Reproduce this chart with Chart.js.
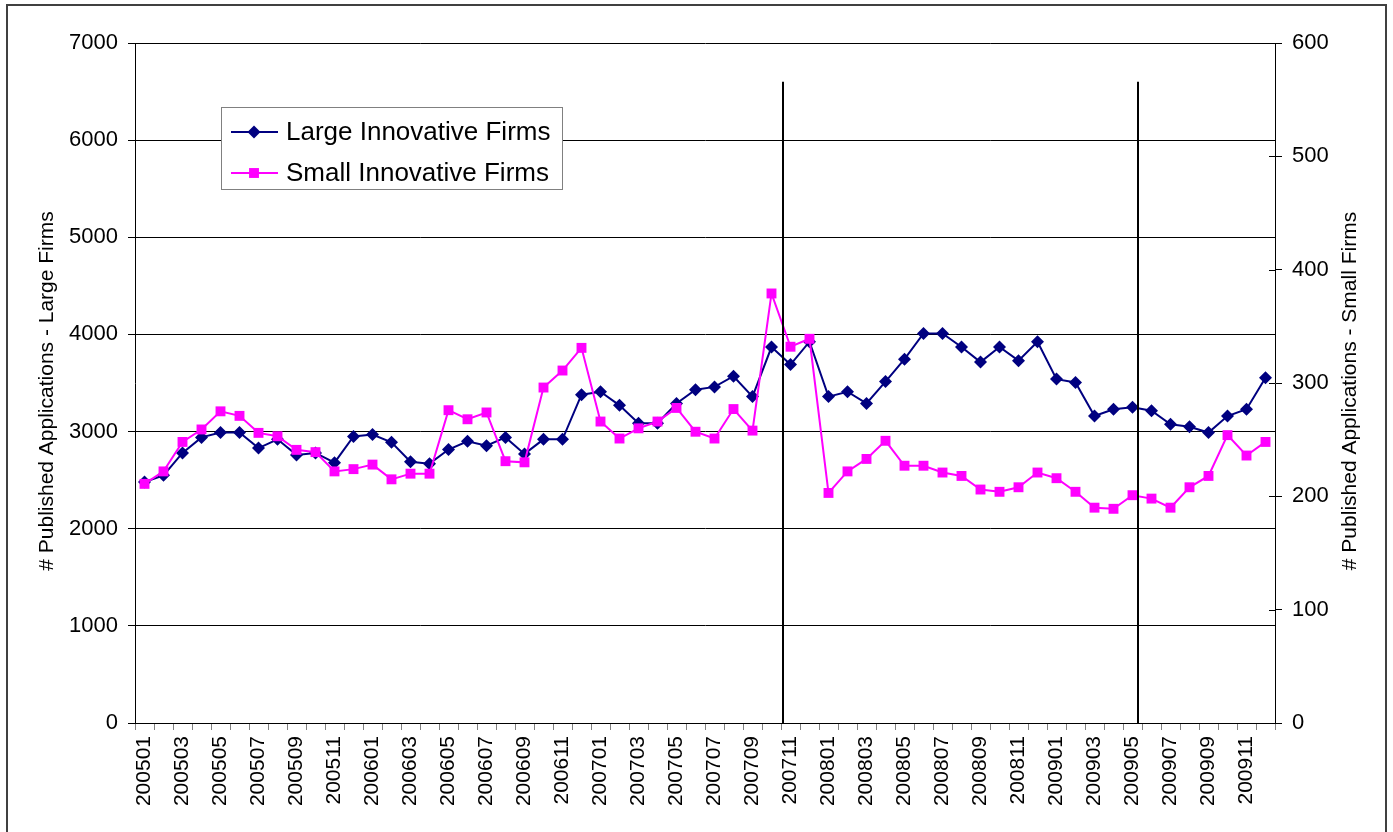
<!DOCTYPE html>
<html>
<head>
<meta charset="utf-8">
<script src="https://cdn.jsdelivr.net/npm/chart.js@4"></script>
<style>
  html, body { margin: 0; padding: 0; background: #fff; }
  canvas { display: block; }
</style>
</head>
<body>
<canvas id="chart" width="1393" height="832"></canvas>
<script>
// monthly published applications, Jan 2005 - Dec 2009
const months = [
  '200501','200502','200503','200504','200505','200506','200507','200508','200509','200510','200511','200512',
  '200601','200602','200603','200604','200605','200606','200607','200608','200609','200610','200611','200612',
  '200701','200702','200703','200704','200705','200706','200707','200708','200709','200710','200711','200712',
  '200801','200802','200803','200804','200805','200806','200807','200808','200809','200810','200811','200812',
  '200901','200902','200903','200904','200905','200906','200907','200908','200909','200910','200911','200912'
];
const largeFirms = [
  2480, 2550, 2780, 2940, 2990, 2990, 2830, 2920, 2760, 2780, 2680, 2950,
  2970, 2890, 2690, 2670, 2815, 2900, 2855, 2940, 2770, 2920, 2920, 3380,
  3410, 3270, 3085, 3085, 3290, 3430, 3460, 3570, 3360, 3870, 3690, 3925,
  3360, 3410, 3290, 3515, 3745, 4010, 4010, 3870, 3715, 3870, 3730, 3925,
  3540, 3505, 3160, 3230, 3250, 3215, 3075, 3050, 2990, 3160, 3230, 3555
];
const smallFirms = [
  211, 222, 248, 259, 275, 271, 256, 253, 241, 239, 222, 224,
  228, 215, 220, 220, 276, 268, 274, 231, 230, 296, 311, 331,
  266, 251, 260, 266, 278, 257, 251, 277, 258, 379, 332, 339,
  203, 222, 233, 249, 227, 227, 221, 218, 206, 204, 208, 221,
  216, 204, 190, 189, 201, 198, 190, 208, 218, 254, 236, 248
];
const leftTicks = [0, 1000, 2000, 3000, 4000, 5000, 6000, 7000];
const rightTicks = [0, 100, 200, 300, 400, 500, 600];
// hand-drawn vertical markers (category position), top on the left axis
const markerIndex = [33.6, 52.3];
const markerTop = 6600;

const FONT = 'Arial, "Liberation Sans", sans-serif';
const NAVY = '#000080';
const MAGENTA = '#FF00FF';

const extras = {
  id: 'extras',
  beforeDraw(chart) {
    const ctx = chart.ctx;
    ctx.save();
    ctx.fillStyle = '#fff';
    ctx.fillRect(0, 0, chart.width, chart.height);
    ctx.restore();
  },
  afterDatasetsDraw(chart) {
    const ctx = chart.ctx, x = chart.scales.x, y = chart.scales.y, y1 = chart.scales.y1;
    ctx.save();
    // vertical markers
    ctx.strokeStyle = '#000';
    ctx.lineWidth = 2;
    markerIndex.forEach(m => {
      const px = Math.round(x.getPixelForValue(m));
      ctx.beginPath();
      ctx.moveTo(px, y.getPixelForValue(markerTop));
      ctx.lineTo(px, y.getPixelForValue(0));
      ctx.stroke();
    });
    // inner half of right axis tick marks
    ctx.lineWidth = 1;
    rightTicks.forEach(t => {
      const py = Math.round(y1.getPixelForValue(t)) + 0.5;
      ctx.beginPath();
      ctx.moveTo(chart.chartArea.right - 6, py);
      ctx.lineTo(chart.chartArea.right, py);
      ctx.stroke();
    });
    ctx.restore();
  },
  afterDraw(chart) {
    const ctx = chart.ctx, area = chart.chartArea;
    ctx.save();
    // axis titles
    ctx.fillStyle = '#000';
    ctx.font = '21px ' + FONT;
    ctx.textAlign = 'center';
    ctx.textBaseline = 'middle';
    const cy = (area.top + area.bottom) / 2 + 8;
    ctx.save();
    ctx.translate(47, cy);
    ctx.rotate(-Math.PI / 2);
    ctx.fillText('# Published Applications - Large Firms', 0, 0);
    ctx.restore();
    ctx.save();
    ctx.translate(1350, cy);
    ctx.rotate(-Math.PI / 2);
    ctx.fillText('# Published Applications - Small Firms', 0, 0);
    ctx.restore();

    // legend box
    const lx = 221.5, ly = 107.5, lw = 341, lh = 82;
    ctx.fillStyle = '#fff';
    ctx.fillRect(lx, ly, lw, lh);
    ctx.strokeStyle = '#808080';
    ctx.lineWidth = 1;
    ctx.strokeRect(lx, ly, lw, lh);
    const rows = [
      { text: 'Large Innovative Firms', color: NAVY, style: 'rectRot', r: 6.5, y: 132 },
      { text: 'Small Innovative Firms', color: MAGENTA, style: 'rect', r: 7, y: 173 }
    ];
    rows.forEach(row => {
      ctx.strokeStyle = row.color;
      ctx.lineWidth = 2;
      ctx.beginPath();
      ctx.moveTo(231, row.y);
      ctx.lineTo(278, row.y);
      ctx.stroke();
      ctx.fillStyle = row.color;
      Chart.helpers.drawPoint(ctx, { pointStyle: row.style, radius: row.r, borderWidth: 0 }, 254, row.y);
      ctx.fillStyle = '#000';
      ctx.font = '26px ' + FONT;
      ctx.textAlign = 'left';
      ctx.textBaseline = 'middle';
      ctx.fillText(row.text, 286, row.y + 1);
    });

    // outer frame
    ctx.strokeStyle = '#404040';
    ctx.lineWidth = 2;
    ctx.strokeRect(7, 5, 1379, 900);
    ctx.restore();
  }
};

new Chart(document.getElementById('chart').getContext('2d'), {
  type: 'line',
  data: {
    labels: months,
    datasets: [
      {
        label: 'Large Innovative Firms',
        data: largeFirms,
        yAxisID: 'y',
        borderColor: NAVY,
        backgroundColor: NAVY,
        borderWidth: 2,
        pointStyle: 'rectRot',
        pointRadius: 6.5,
        pointBorderWidth: 0,
        tension: 0,
        order: 1
      },
      {
        label: 'Small Innovative Firms',
        data: smallFirms,
        yAxisID: 'y1',
        borderColor: MAGENTA,
        backgroundColor: MAGENTA,
        borderWidth: 2,
        pointStyle: 'rect',
        pointRadius: 7,
        pointBorderWidth: 0,
        tension: 0,
        order: 0
      }
    ]
  },
  options: {
    responsive: false,
    animation: false,
    layout: { padding: { top: 43, left: 0, right: 0, bottom: 0 } },
    plugins: { legend: { display: false }, tooltip: { enabled: false } },
    scales: {
      x: {
        offset: true,
        grid: { offset: true, drawOnChartArea: false, color: '#808080', tickLength: 7 },
        border: { color: '#000', width: 1 },
        ticks: {
          autoSkip: false,
          minRotation: 90,
          maxRotation: 90,
          padding: 6,
          color: '#000',
          font: { family: FONT, size: 21 },
          callback: (v, i) => (i % 2 === 0 ? months[i] : '')
        },
        afterFit: s => { s.height = 109; }
      },
      y: {
        position: 'left',
        min: 0,
        max: 7000,
        afterBuildTicks: s => { s.ticks = leftTicks.map(v => ({ value: v })); },
        grid: { color: '#000', tickLength: 7 },
        border: { color: '#000', width: 1 },
        ticks: { padding: 10, color: '#000', font: { family: FONT, size: 22 }, callback: v => String(v) },
        afterFit: s => { s.width = 135; }
      },
      y1: {
        position: 'right',
        min: 0,
        max: 600,
        afterBuildTicks: s => { s.ticks = rightTicks.map(v => ({ value: v })); },
        grid: { drawOnChartArea: false, color: '#000', tickLength: 7 },
        border: { color: '#000', width: 1 },
        ticks: { padding: 10, color: '#000', font: { family: FONT, size: 22 }, callback: v => String(v) },
        afterFit: s => { s.width = 118; }
      }
    }
  },
  plugins: [extras]
});
</script>
</body>
</html>
